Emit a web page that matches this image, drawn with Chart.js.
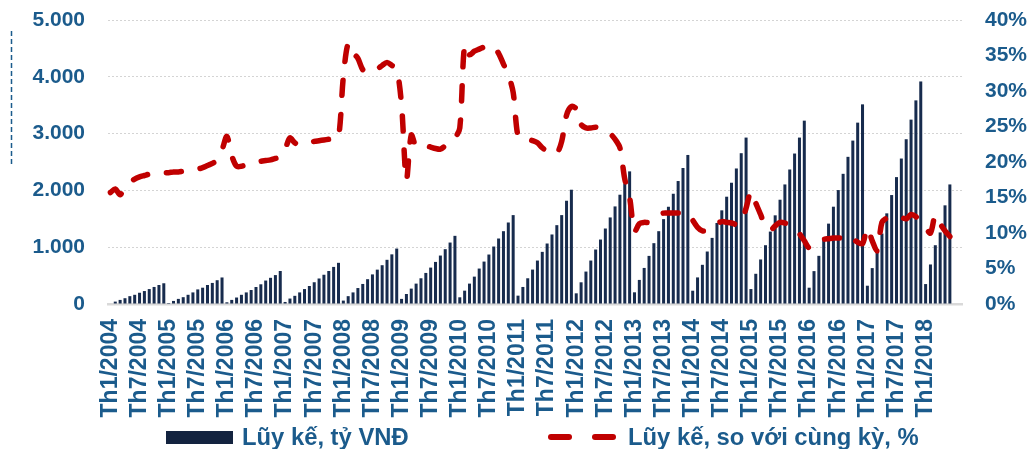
<!DOCTYPE html>
<html lang="vi">
<head>
<meta charset="utf-8">
<title>Lũy kế theo tháng</title>
<script src="https://cdn.jsdelivr.net/npm/chart.js@4.4.1/dist/chart.umd.min.js"></script>
<style>
  html, body { margin: 0; padding: 0; background: #fff; }
  #wrap { position: relative; width: 1031px; height: 449px; overflow: hidden; }
  #chart { position: absolute; left: 0; top: 0; }
  .legend { position: absolute; top: 423px; height: 28px; display: flex; align-items: center;
            font-family: "Liberation Sans", Arial, sans-serif; font-weight: bold; font-size: 23.8px;
            color: #1B5B8C; white-space: nowrap; }
  .swatch-bar { display: inline-block; width: 67px; height: 13px; background: #13233F; margin-right: 9px; }
  .swatch-dash { display: inline-block; width: 24px; height: 6px; border-radius: 3px; background: #C00000; }
</style>
</head>
<body>
<div id="wrap">
  <canvas id="chart" width="1031" height="449"></canvas>
  <div class="legend" style="left:166px;"><span class="swatch-bar"></span>Lũy kế, tỷ VNĐ</div>
  <div class="legend" style="left:548px;"><span class="swatch-dash"></span><span class="swatch-dash" style="margin-left:20px;margin-right:12px;"></span>Lũy kế, so với cùng kỳ, %</div>
</div>
<script>
// Cumulative value since the start of each year, billion VND (Jan..Dec)
const cum2004 = [null, 42, 72, 102, 138, 162, 198, 228, 263, 300, 335, 365];
const cum2005 = [18, 54, 90, 120, 162, 204, 257, 287, 335, 371, 419, 467];
const cum2006 = [30, 72, 114, 162, 204, 246, 299, 347, 413, 461, 509, 581];
const cum2007 = [36, 96, 144, 204, 263, 317, 383, 449, 515, 581, 653, 725];
const cum2008 = [60, 138, 204, 281, 353, 437, 521, 605, 683, 778, 874, 976];
const cum2009 = [90, 176, 271, 359, 453, 547, 641, 741, 853, 965, 1082, 1200];
const cum2010 = [118, 235, 359, 482, 624, 747, 871, 1012, 1153, 1282, 1435, 1565];
const cum2011 = [147, 300, 453, 606, 765, 918, 1065, 1224, 1388, 1565, 1818, 2012];
const cum2012 = [188, 382, 571, 765, 959, 1135, 1329, 1524, 1718, 1924, 2124, 2335];
const cum2013 = [206, 424, 635, 847, 1071, 1282, 1494, 1712, 1941, 2165, 2394, 2624];
const cum2014 = [234, 468, 690, 924, 1164, 1427, 1649, 1889, 2135, 2386, 2655, 2930];
const cum2015 = [263, 532, 784, 1035, 1275, 1561, 1836, 2105, 2368, 2649, 2930, 3228];
const cum2016 = [287, 579, 848, 1129, 1415, 1713, 2006, 2292, 2591, 2877, 3193, 3515];
const cum2017 = [322, 632, 912, 1240, 1596, 1918, 2234, 2561, 2901, 3246, 3585, 3918];
const cum2018 = [351, 696, 1035, 1260, 1737, 2105, null, null];

// Year-on-year growth of the cumulative value, % (Jan..Dec)
const yoy2004 = [15.7, 16.2, 15.4, 16.4, 17.1, 17.6, 17.9, 18.1, 18.3, 18.4, 18.5, 18.5];
const yoy2005 = [18.5, 18.6, 18.6, 18.7, 18.8, 18.9, 19.0, 19.2, 19.5, 19.8, 20.3, 21.7];
const yoy2006 = [23.6, 20.9, 19.4, 19.4, 19.6, 19.7, 19.9, 20.1, 20.2, 20.3, 20.5, 20.7];
const yoy2007 = [21.8, 23.4, 22.7, 22.4, 22.6, 22.7, 22.9, 23.0, 23.1, 23.2, 23.3, 23.4];
const yoy2008 = [32.0, 36.7, 35.4, 34.6, 33.0, 32.6, 32.8, 33.1, 33.6, 34.0, 33.6, 33.1];
const yoy2009 = [28.0, 17.5, 23.8, 22.2, 22.4, 22.3, 22.1, 21.9, 21.8, 22.3, 22.9, 23.4];
const yoy2010 = [24.8, 36.5, 35.1, 35.6, 35.9, 36.2, 36.5, 36.2, 35.3, 33.8, 32.3, 29.8];
const yoy2011 = [23.6, 23.3, 23.2, 23.0, 22.7, 22.0, 21.5, 21.2, 21.2, 22.9, 26.6, 27.8];
const yoy2012 = [27.5, 25.3, 24.8, 24.8, 24.9, 24.7, 24.5, 24.0, 23.2, 22.0, 17.6, 15.0];
const yoy2013 = [10.2, 11.3, 11.5, 11.5, 12.0, 12.5, 12.8, 12.8, 12.8, 12.8, 12.8, 12.8];
const yoy2014 = [11.8, 10.8, 10.3, 10.4, 10.7, 11.3, 11.6, 11.5, 11.4, 11.2, 11.4, 13.5];
const yoy2015 = [15.8, 14.2, 12.6, 10.9, 10.4, 11.0, 11.5, 11.4, 11.1, 10.7, 9.9, 8.9];
const yoy2016 = [7.9, 8.3, 8.7, 9.1, 9.2, 9.3, 9.3, 9.3, 9.7, 9.2, 8.7, 8.5];
const yoy2017 = [10.7, 8.9, 7.5, 11.5, 12.1, 12.3, 12.3, 12.2, 12.0, 12.6, 12.3, 11.5];
const yoy2018 = [10.7, 10.0, 12.5, 11.3, 10.3, 9.5, null, null];

// Category axis: one slot per month, labelled every six months
const firstYear = 2004;
const lastYear = 2018;
const monthsInLastYear = 8;
const tickLabels = [
  'Th1/2004', 'Th7/2004', 'Th1/2005', 'Th7/2005', 'Th1/2006', 'Th7/2006',
  'Th1/2007', 'Th7/2007', 'Th1/2008', 'Th7/2008', 'Th1/2009', 'Th7/2009',
  'Th1/2010', 'Th7/2010', 'Th1/2011', 'Th7/2011', 'Th1/2012', 'Th7/2012',
  'Th1/2013', 'Th7/2013', 'Th1/2014', 'Th7/2014', 'Th1/2015', 'Th7/2015',
  'Th1/2016', 'Th7/2016', 'Th1/2017', 'Th7/2017', 'Th1/2018'
];

const months = [];
for (let y = firstYear; y <= lastYear; y++) {
  const n = y === lastYear ? monthsInLastYear : 12;
  for (let m = 1; m <= n; m++) months.push('Th' + m + '/' + y);
}

const cumulative = [].concat(cum2004, cum2005, cum2006, cum2007, cum2008, cum2009, cum2010,
  cum2011, cum2012, cum2013, cum2014, cum2015, cum2016, cum2017, cum2018);
const growth = [].concat(yoy2004, yoy2005, yoy2006, yoy2007, yoy2008, yoy2009, yoy2010,
  yoy2011, yoy2012, yoy2013, yoy2014, yoy2015, yoy2016, yoy2017, yoy2018);

const BLUE = '#1B5B8C';
const FONT = '"Liberation Sans", Arial, sans-serif';

// Thin dashed mark at the far left edge (clipped axis caption)
const edgeMark = {
  id: 'edgeMark',
  afterDraw(chart) {
    const ctx = chart.ctx;
    ctx.save();
    ctx.strokeStyle = BLUE;
    ctx.lineWidth = 1.5;
    ctx.setLineDash([5, 3]);
    ctx.beginPath();
    ctx.moveTo(11.5, 31);
    ctx.lineTo(11.5, 165);
    ctx.stroke();
    ctx.restore();
  }
};

// Vertical axes: fixed width, no extra label overhang above/below the plot
function fixVertical(width) {
  return function (scale) {
    scale.width = width;
    scale.paddingTop = 0;
    scale.paddingBottom = 0;
  };
}

new Chart(document.getElementById('chart'), {
  data: {
    labels: months,
    datasets: [
      {
        type: 'line',
        label: 'Lũy kế, so với cùng kỳ, %',
        data: growth,
        yAxisID: 'y1',
        borderColor: '#C00000',
        borderWidth: 5.5,
        borderDash: [15, 19],
        borderCapStyle: 'round',
        borderJoinStyle: 'round',
        pointRadius: 0,
        tension: 0.3,
        order: 0
      },
      {
        type: 'bar',
        label: 'Lũy kế, tỷ VNĐ',
        data: cumulative,
        yAxisID: 'y',
        backgroundColor: '#172B4D',
        categoryPercentage: 1.0,
        barPercentage: 0.62,
        order: 1
      }
    ]
  },
  options: {
    responsive: false,
    devicePixelRatio: 1,
    animation: false,
    layout: { padding: { top: 20, left: 0, right: 0, bottom: 0 } },
    plugins: { legend: { display: false }, tooltip: { enabled: false } },
    scales: {
      x: {
        type: 'category',
        offset: true,
        grid: { display: false, drawTicks: false },
        border: { display: true, color: '#D9D9D9', width: 2.5 },
        ticks: {
          autoSkip: false,
          minRotation: 90,
          maxRotation: 90,
          padding: 15,
          color: BLUE,
          font: { family: FONT, size: 23, weight: 'bold' },
          callback(value) {
            const lbl = this.getLabelForValue(value);
            return tickLabels.includes(lbl) ? lbl : '';
          }
        },
        afterFit(scale) { scale.height = 145; }
      },
      y: {
        position: 'left',
        min: 0,
        max: 5000,
        grid: { color: '#D4D4D4', lineWidth: 1, drawTicks: false },
        border: { display: false, dash: [2, 2] },
        ticks: {
          stepSize: 1000,
          padding: 23,
          color: BLUE,
          font: { family: FONT, size: 21, weight: 'bold' },
          callback(v) { return v.toLocaleString('de-DE'); }
        },
        afterFit: fixVertical(108)
      },
      y1: {
        position: 'right',
        min: 0,
        max: 40,
        grid: { display: false, drawTicks: false },
        border: { display: false },
        ticks: {
          stepSize: 5,
          padding: 23,
          color: BLUE,
          font: { family: FONT, size: 21, weight: 'bold' },
          callback(v) { return v + '%'; }
        },
        afterFit: fixVertical(69)
      }
    }
  },
  plugins: [edgeMark]
});
</script>
</body>
</html>
